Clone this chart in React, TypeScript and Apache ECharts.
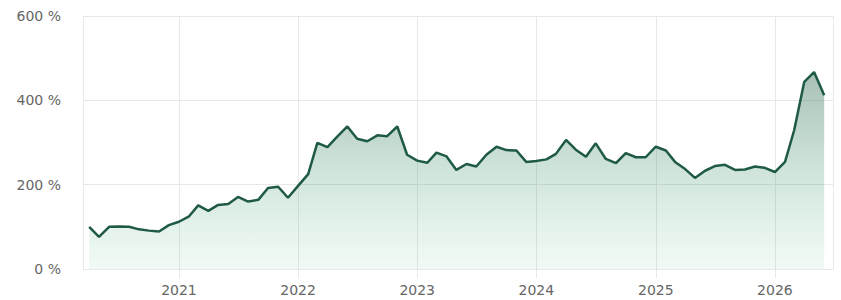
import React, { useEffect, useRef } from "react";
import * as echarts from "echarts";

const startYear = 2020;
const startMonth = 4; // April 2020
const values: number[] = [
  // 2020 Apr-Dec
  100, 76, 100, 101, 100, 94, 91, 89, 104,
  // 2021
  112, 125, 151, 138, 152, 154, 171, 160, 164, 192, 195, 169,
  // 2022
  197, 225, 299, 289, 314, 338, 309, 303, 317, 315, 338, 271,
  // 2023
  257, 252, 276, 267, 235, 249, 243, 271, 290, 282, 281, 254,
  // 2024
  256, 260, 273, 306, 283, 266, 298, 261, 251, 275, 265, 265,
  // 2025
  290, 281, 254, 237, 216, 233, 244, 247, 235, 236, 243, 240,
  // 2026 Jan-Jun
  230, 254, 329, 444, 467, 412,
];

const yTicks = [0, 200, 400, 600];
const xMin = "2020-03-13";
const xMax = "2026-06-28";

function buildData(): [number, number][] {
  return values.map((v, i) => {
    const m = startMonth - 1 + i;
    const y = startYear + Math.floor(m / 12);
    const mo = m % 12;
    return [Date.UTC(y, mo, 1), v];
  });
}

export default function App() {
  const ref = useRef<HTMLDivElement>(null);
  useEffect(() => {
    if (!ref.current) return;
    document.body.style.margin = "0";
    const chart = echarts.init(ref.current, undefined, { renderer: "svg" });
    const grid = "#e8e8e8";
    const yearMs = 365 * 24 * 3600 * 1000;
    chart.setOption({
      animation: false,
      grid: { left: 83, right: 8, top: 16, bottom: 31 },
      xAxis: {
        type: "time",
        min: Date.parse(xMin),
        max: Date.parse(xMax),
        minInterval: yearMs,
        maxInterval: yearMs + 24 * 3600 * 1000,
        axisLine: { show: true, lineStyle: { color: grid, width: 1 } },
        axisTick: { show: true, length: 9, lineStyle: { color: grid } },
        splitLine: { show: true, lineStyle: { color: grid, width: 1 } },
        axisLabel: {
          color: "#666",
          fontSize: 14,
          fontFamily: "DejaVu Sans",
          margin: 14,
          formatter: "{yyyy}",
          showMinLabel: false,
          showMaxLabel: false,
        },
      },
      yAxis: {
        type: "value",
        min: yTicks[0],
        max: yTicks[yTicks.length - 1],
        interval: 200,
        axisLine: { show: false },
        axisTick: { show: false },
        splitLine: { show: true, lineStyle: { color: grid, width: 1 } },
        axisLabel: {
          color: "#666",
          fontSize: 14,
          fontFamily: "DejaVu Sans",
          margin: 22,
          formatter: "{value} %",
        },
      },
      series: [
        {
          type: "line",
          data: buildData(),
          symbol: "none",
          lineStyle: { color: "#1f5a44", width: 2.5 },
          itemStyle: { color: "#1f5a44" },
          areaStyle: {
            color: new echarts.graphic.LinearGradient(0, 0, 0, 1, [
              { offset: 0, color: "rgba(31,90,68,0.55)" },
              { offset: 1, color: "rgba(60,180,120,0.1)" },
            ]),
          },
        },
      ],
    });
    return () => chart.dispose();
  }, []);
  return (
    <div
      ref={ref}
      style={{ position: "absolute", left: 0, top: 0, width: 841, height: 300 }}
    />
  );
}
